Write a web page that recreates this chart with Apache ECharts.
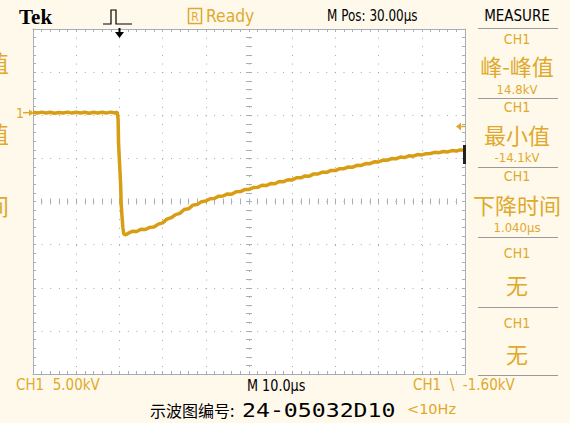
<!DOCTYPE html>
<html>
<head>
<meta charset="utf-8">
<style>
html,body{margin:0;padding:0;background:#FFF9EC;}
#chart{width:570px;height:423px;}
</style>
<script src="https://cdn.jsdelivr.net/npm/echarts@6.0.0/dist/echarts.min.js"></script>
</head>
<body>
<div id="chart"></div>
<script>
// ---- data (time in µs relative to trigger, voltage in kV) ----
const timeUs = [
  -20,-19,-18,-17,-16,-15,-14,-13,-12,-11,-10,-9,-8,-7,-6,-5,-4,-3,-2,-1,-0.5,
  -0.4,-0.3,-0.2,0,0.3,0.4,0.6,0.8,1.0,1.3,1.7,
  2,3,4,5,6,7,8,9,10,11,12,13,14,15,16,17,18,19,20,
  21,22,23,24,25,26,27,28,29,30,31,32,33,34,35,36,37,38,39,40,
  41,42,43,44,45,46,47,48,49,50,51,52,53,54,55,56,57,58,59,60,
  61,62,63,64,65,66,67,68,69,70,71,72,73,74,75,76,77,78,79,80
];
const voltsKV = [
  0.04,-0.05,0.06,-0.03,0.05,-0.06,0.03,-0.04,0.06,-0.05,0.04,-0.03,0.05,-0.06,0.04,-0.04,0.05,-0.03,0.06,-0.04,0.05,
  0.05,-0.8,-3.5,-5.5,-8.5,-10.5,-12.0,-13.3,-14.0,-14.15,-14.1,
  -14.0,-13.75,-13.78,-13.52,-13.55,-13.3,-13.25,-12.92,-12.78,-12.35,-12.18,-11.82,-11.68,-11.22,-11.15,-10.72,-10.66,-10.32,-10.25,
  -9.98,-9.95,-9.68,-9.66,-9.42,-9.46,-9.18,-9.15,-8.92,-8.9,-8.68,-8.66,-8.42,-8.45,-8.22,-8.25,-7.98,-8.0,-7.78,-7.8,
  -7.55,-7.56,-7.33,-7.36,-7.1,-7.1,-6.9,-6.92,-6.7,-6.72,-6.5,-6.5,-6.3,-6.32,-6.1,-6.12,-5.9,-5.92,-5.7,-5.72,
  -5.5,-5.52,-5.32,-5.35,-5.15,-5.2,-5.0,-5.05,-4.86,-4.9,-4.75,-4.74,-4.6,-4.64,-4.5,-4.55,-4.4,-4.45,-4.32,-4.35
];
// screen: 10 horizontal divisions x 10 µs, 8 vertical divisions x 5 kV
const xDivisions = [-5, 5];
const yDivisions = [-4, 4];
const timeRangeUs = [-20, 80];
const groundOffsetKV = 10.3; // ground marker sits 2.06 div above screen centre
const voltRangeKV = [-groundOffsetKV - 20, -groundOffsetKV + 20];

// measurement panel texts
const measureTitles = ['峰-峰值', '最小值', '下降时间', '无', '无'];
const measureValues = ['14.8kV', '-14.1kV', '1.040\u00B5s', '', ''];

// ---- styling ----
const ORANGE = '#E0A92C';
const TRACE = '#D89D12';
const FRAME = '#A7AEBA';
const DOT = '#A0A6B2';
const NARROW = '"Liberation Sans Narrow","DejaVu Sans Condensed","Liberation Sans",sans-serif';
const CJK = '"Noto Sans CJK SC","Noto Sans",sans-serif';

const tickStyle = {color: FRAME, width: 1};
function frameAxis(pos, split, dash) {
  return {
    type: 'value', min: 0, max: 0, interval: 1, position: pos,
    axisLine: {show: true, onZero: false, lineStyle: {color: FRAME, width: 1}},
    axisTick: {show: true, inside: true, length: 3, lineStyle: tickStyle},
    minorTick: {show: true, splitNumber: 5, length: 3, lineStyle: tickStyle},
    axisLabel: {show: false},
    splitLine: {show: split, lineStyle: {color: DOT, width: 1, type: dash}}
  };
}
function centerAxis(inside) {
  return {
    type: 'value', min: 0, max: 0, interval: 1,
    axisLine: {show: false, onZero: true, onZeroAxisIndex: 0},
    axisTick: {show: true, inside: inside, length: 3, lineStyle: tickStyle},
    minorTick: {show: true, splitNumber: 5, length: 3, lineStyle: tickStyle},
    axisLabel: {show: false},
    splitLine: {show: false}
  };
}
const xAxes = [frameAxis('bottom', true, [1, 7.64]), frameAxis('top', false), centerAxis(true), centerAxis(false)];
xAxes.forEach(a => { a.min = xDivisions[0]; a.max = xDivisions[1]; });
xAxes[2].position = 'bottom'; xAxes[3].position = 'bottom';
xAxes.push({type: 'value', show: false, min: timeRangeUs[0], max: timeRangeUs[1]});

const yAxes = [frameAxis('left', true, [1, 7.625]), frameAxis('right', false), centerAxis(true), centerAxis(false)];
yAxes.forEach(a => { a.min = yDivisions[0]; a.max = yDivisions[1]; });
yAxes[2].position = 'left'; yAxes[3].position = 'left';
yAxes.push({type: 'value', show: false, min: voltRangeKV[0], max: voltRangeKV[1]});

function txt(text, x, y, font, fill, align, sx) {
  return {type: 'text', x: x, y: y, silent: true, z: 100, scaleX: sx || 1,
    style: {text: text, font: font, fill: fill, align: align || 'center', textAlign: align || 'center',
            verticalAlign: 'middle', textVerticalAlign: 'middle'}};
}
function hline(x1, x2, y, color) {
  return {type: 'line', silent: true, z: 100, shape: {x1: x1, y1: y, x2: x2, y2: y}, style: {stroke: color, lineWidth: 1}};
}

const PX = 517;
const graphics = [];
// header
graphics.push(txt('Tek', 19, 17, 'bold 21px "Liberation Serif","DejaVu Serif",serif', '#000', 'left'));
graphics.push({type: 'polyline', silent: true, z: 100, shape: {points: [[103,24],[111,24],[111,10],[116,10],[116,24],[132,24]]},
  style: {stroke: '#000', lineWidth: 1.2, fill: null}});
graphics.push({type: 'rect', silent: true, z: 100, shape: {x: 188.5, y: 8.5, width: 13, height: 15}, style: {stroke: ORANGE, fill: null, lineWidth: 1.5}});
graphics.push(txt('R', 195, 16.5, '12px ' + NARROW, ORANGE));
graphics.push(txt('Ready', 206, 16, '17px ' + NARROW, ORANGE, 'left', 1.02));
graphics.push(txt('M Pos: 30.00\u00B5s', 327, 16, '15px ' + NARROW, '#000', 'left', 0.89));
graphics.push(txt('MEASURE', PX, 16, '15px ' + NARROW, '#000'));
// trigger position arrow
graphics.push({type: 'line', silent: true, z: 101, shape: {x1: 119.5, y1: 28, x2: 119.5, y2: 33}, style: {stroke: '#000', lineWidth: 2}});
graphics.push({type: 'polygon', silent: true, z: 101, shape: {points: [[115,32],[124,32],[119.5,38]]}, style: {fill: '#000'}});
// ground marker
graphics.push(txt('1', 20, 113, '14px ' + NARROW, ORANGE));
graphics.push({type: 'line', silent: true, z: 101, shape: {x1: 23, y1: 112.7, x2: 30, y2: 112.7}, style: {stroke: ORANGE, lineWidth: 1.5}});
graphics.push({type: 'polygon', silent: true, z: 101, shape: {points: [[29,109.5],[34,112.7],[29,116]]}, style: {fill: ORANGE}});
// trigger level arrow
graphics.push({type: 'polygon', silent: true, z: 101, shape: {points: [[456,126.5],[461,122.5],[461,130.5]]}, style: {fill: ORANGE}});
graphics.push({type: 'line', silent: true, z: 101, shape: {x1: 460, y1: 126.5, x2: 465, y2: 126.5}, style: {stroke: ORANGE, lineWidth: 1.5}});
graphics.push({type: 'rect', silent: true, z: 101, shape: {x: 463, y: 145, width: 3, height: 19}, style: {fill: '#222'}});
// left labels, cut off by the screen edge as in the reference
graphics.push(txt('值', 9, 62, '23px ' + CJK, ORANGE, 'right'));
graphics.push(txt('值', 9, 133, '23px ' + CJK, ORANGE, 'right'));
graphics.push(txt('间', 9, 205, '23px ' + CJK, ORANGE, 'right'));
// measurement panel
const sepY = [28, 98, 167, 237, 307, 375];
sepY.forEach(y => graphics.push(hline(478, 558, y + 0.5, '#9A9A9A')));
const chY = [39, 107, 176, 253, 323];
const titleY = [65, 134, 204, 284, 353];
const valY = [89, 157, 227];
for (let i = 0; i < measureTitles.length; i++) {
  graphics.push(txt('CH1', PX, chY[i], '14px ' + NARROW, ORANGE));
  graphics.push(txt(measureTitles[i], PX, titleY[i], '22px ' + CJK, ORANGE));
  if (measureValues[i]) graphics.push(txt(measureValues[i], PX, valY[i], '13px ' + NARROW, ORANGE));
}
// bottom line
graphics.push(txt('CH1  5.00kV', 16, 385, '15px ' + NARROW, ORANGE, 'left'));
graphics.push(txt('M 10.0\u00B5s', 247, 385, '15px ' + NARROW, '#000', 'left', 0.95));
graphics.push(txt('CH1  \\  -1.60kV', 413, 385, '15px ' + NARROW, ORANGE, 'left'));
graphics.push(txt('示波图编号:', 150, 410, '16px ' + CJK, '#000', 'left'));
graphics.push(txt('24-05032D10', 242, 410, '19px "DejaVu Sans Mono",monospace', '#000', 'left', 1.22));
graphics.push(txt('<10Hz', 407, 409, '14px ' + NARROW, ORANGE, 'left', 1.15));

const chart = echarts.init(document.getElementById('chart'), null, {renderer: 'svg'});
chart.setOption({
  animation: false,
  backgroundColor: '#FFF9EC',
  grid: {left: 33, top: 29, width: 432, height: 345, show: true, backgroundColor: '#FFFFFF', borderWidth: 0},
  xAxis: xAxes,
  yAxis: yAxes,
  series: [{
    type: 'line', xAxisIndex: 4, yAxisIndex: 4,
    showSymbol: false, symbol: 'none', clip: true,
    lineStyle: {color: TRACE, width: 3.5},
    data: timeUs.map((t, i) => [t, voltsKV[i]]),
    z: 10
  }],
  graphic: graphics
});
</script>
</body>
</html>
